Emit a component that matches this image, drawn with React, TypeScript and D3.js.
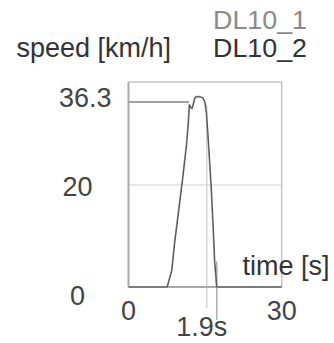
import React from "react";
import * as d3 from "d3";

const series1Name = "DL10_1";
const series2Name = "DL10_2";
// DL10_1 (light) samples: time [s], speed [km/h]
const s1Time = [0, 7.5, 8.4, 9.0, 10.0, 10.5, 11.3, 11.7, 11.85, 12.1, 12.35, 12.55, 12.9, 13.2, 14.0, 14.5, 14.9, 15.2, 15.6, 16.1, 16.5, 16.8, 17.2, 30];
const s1Speed = [0, 0, 3.2, 9, 17, 21, 28, 33, 35.8, 35.2, 35.0, 35.6, 37.0, 37.4, 37.4, 37.1, 36.3, 34, 28, 20, 12, 5, 0, 0];
// DL10_2 (dark)
const s2Time = [0, 7.6, 8.5, 9.1, 10.1, 10.6, 11.4, 11.8, 11.95, 12.2, 12.45, 12.65, 13.0, 13.3, 14.0, 14.6, 15.0, 15.3, 15.7, 16.2, 16.6, 16.9, 17.3, 30];
const s2Speed = [0, 0, 3.2, 9, 17, 21, 28, 33, 35.8, 35.2, 35.0, 35.6, 37.0, 37.3, 37.3, 37.0, 36.2, 34, 28, 20, 12, 5, 0, 0];

const yTickValues = [0, 20];
const xTickValues = [0, 30];
const refSpeed = 36.3;
const refSpeedTime = 11.85;
const markerTimes = [15.33, 17.29];
const markerLabel = "1.9s";
const yTitle = "speed [km/h]";
const xTitle = "time [s]";

export default function App() {
  const left = 128.5, right = 281.7, top = 82, bottom = 287;
  const x = d3.scaleLinear().domain([0, 30]).range([left, right]);
  const y = d3.scaleLinear().domain([0, 40.2]).range([bottom, top]);
  const line = d3.line<[number, number]>().x(d => x(d[0])).y(d => y(d[1]));
  const d1 = line(s1Time.map((t, i) => [t, s1Speed[i]] as [number, number])) || "";
  const d2 = line(s2Time.map((t, i) => [t, s2Speed[i]] as [number, number])) || "";
  const font = "'Liberation Sans', Arial, sans-serif";
  return (
    <svg width={334} height={343} style={{ position: "absolute", left: 0, top: 0, background: "#fff" }} fontFamily={font}>
      {/* frame */}
      <line x1={left} x2={right} y1={top} y2={top} stroke="#c4c4c4" strokeWidth={1.5} />
      <line x1={right} x2={right} y1={top} y2={bottom} stroke="#c4c4c4" strokeWidth={1.5} />
      {yTickValues.filter(v => v > 0).map(v => (
        <line key={v} x1={left} x2={right} y1={y(v)} y2={y(v)} stroke="#cfcfcf" strokeWidth={1.2} />
      ))}
      {/* reference speed line */}
      <line x1={left} x2={x(refSpeedTime)} y1={y(refSpeed)} y2={y(refSpeed)} stroke="#a0a0a0" strokeWidth={2} />
      {/* marker lines */}
      <line x1={x(markerTimes[0])} x2={x(markerTimes[0])} y1={y(35.7)} y2={308} stroke="#c8c8c8" strokeWidth={1.2} />
      <line x1={x(markerTimes[1])} x2={x(markerTimes[1])} y1={y(5)} y2={320} stroke="#9a9a9a" strokeWidth={1.2} />
      {/* axes */}
      <line x1={left} x2={left} y1={top} y2={bottom} stroke="#a8a8a8" strokeWidth={2} />
      <line x1={left} x2={right} y1={bottom} y2={bottom} stroke="#a8a8a8" strokeWidth={2} />
      {/* series */}
      <path d={d1} fill="none" stroke="#a0a0a0" strokeWidth={1.2} />
      <path d={d2} fill="none" stroke="#555" strokeWidth={1.2} />
      {/* y labels */}
      <text x={85.3} y={107} fontSize={27} fill="#444" textAnchor="middle">{refSpeed.toFixed(1)}</text>
      {yTickValues.map(v => (
        <text key={v} x={77.5} y={y(v) + 11 + (v === 0 ? 7 : 0)} fontSize={27} fill="#444" textAnchor="middle">{v}</text>
      ))}
      {xTickValues.map(v => (
        <text key={v} x={x(v)} y={320} fontSize={27} fill="#444" textAnchor="middle">{v}</text>
      ))}
      <text x={(x(markerTimes[0]) + x(markerTimes[1])) / 2 - 10} y={336} fontSize={27} fill="#444" textAnchor="middle">{markerLabel}</text>
      <text x={16.5} y={57} fontSize={27} fill="#333">{yTitle}</text>
      <text x={213} y={29} fontSize={25} fill="#8a8a8a" textLength={94} lengthAdjust="spacingAndGlyphs">{series1Name}</text>
      <text x={213} y={57} fontSize={25} fill="#333" textLength={94} lengthAdjust="spacingAndGlyphs">{series2Name}</text>
      <text x={242.5} y={275} fontSize={27} fill="#333">{xTitle}</text>
    </svg>
  );
}
